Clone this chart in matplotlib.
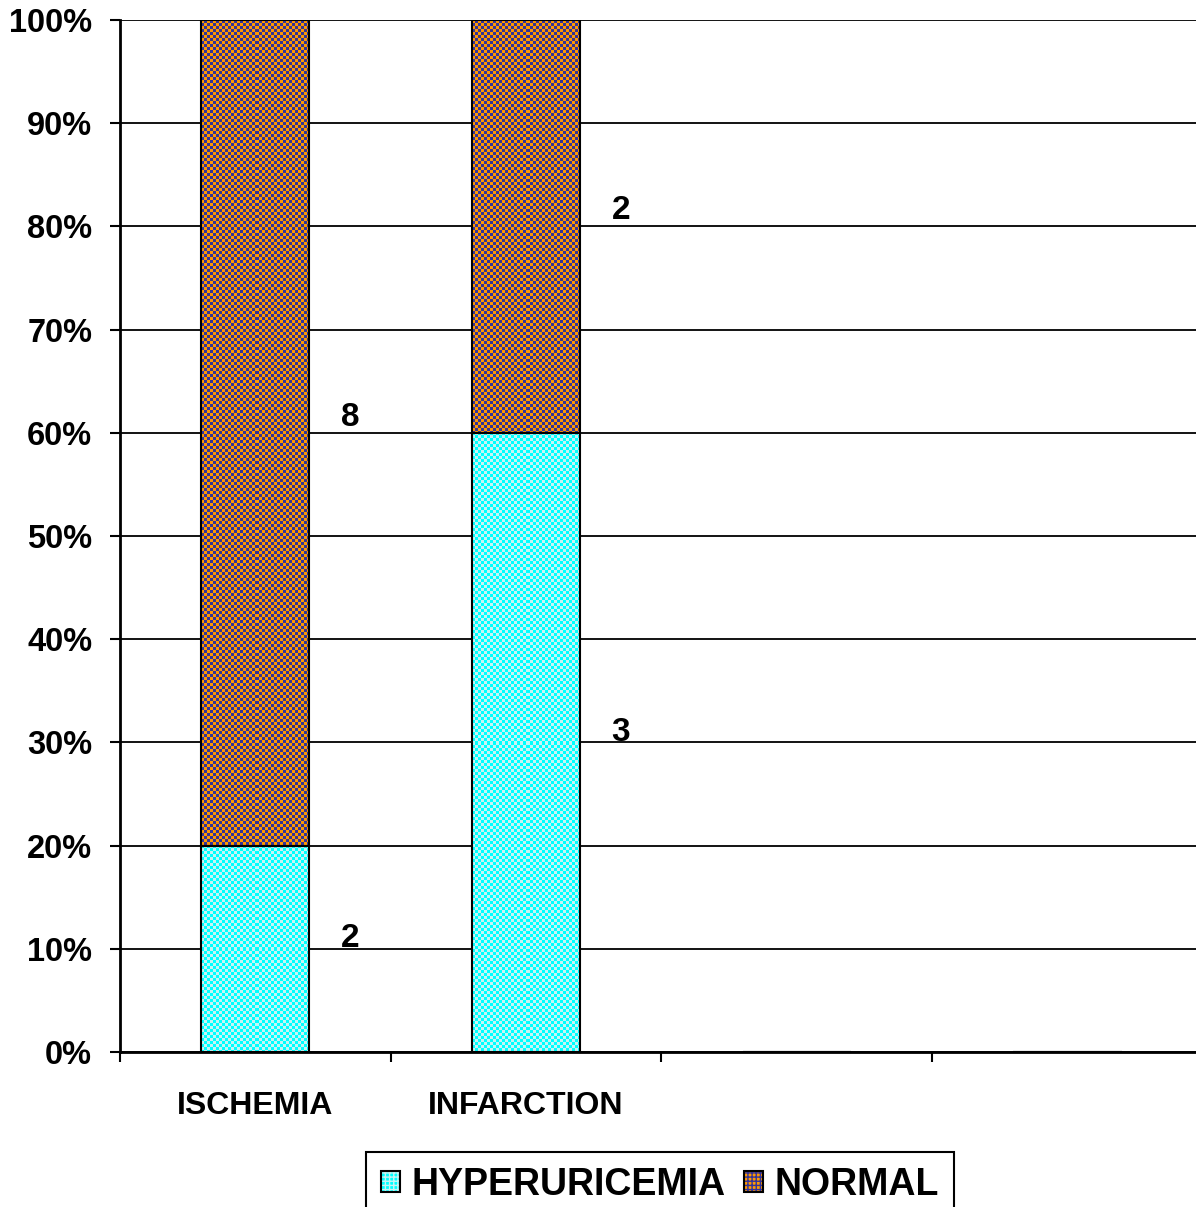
import numpy as np
import matplotlib.pyplot as plt
from matplotlib.colors import to_rgb
from matplotlib.patches import Patch
from matplotlib.legend_handler import HandlerTuple

plt.rcParams['font.family'] = ['Liberation Sans', 'DejaVu Sans']
plt.rcParams['font.weight'] = 'bold'

# counts per group
groups = ['ISCHEMIA', 'INFARCTION', '', '']
hyper = [2, 3, 0, 0]
normal = [8, 2, 0, 0]
series = ['HYPERURICEMIA', 'NORMAL']

# two-colour checker fills
checks = {
    'HYPERURICEMIA': ('#00FFFF', '#C8F4F4'),
    'NORMAL': ('#FF9900', '#333399'),
}

tot = np.array(hyper) + np.array(normal)
tot_safe = np.where(tot == 0, 1, tot)
p_hyper = np.array(hyper) / tot_safe * 100
p_normal = np.array(normal) / tot_safe * 100

fig = plt.figure(figsize=(11.96, 12.07), dpi=100)
ax = fig.add_axes([120 / 1196, 1 - 1052 / 1207, 1076 / 1196, 1032 / 1207])
x = np.arange(len(groups))
ax.set_xlim(-0.5, 3.475)
ax.set_ylim(0, 100)

b1 = ax.bar(x, p_hyper, 0.4, color=checks['HYPERURICEMIA'][0], zorder=2)
b2 = ax.bar(x, p_normal, 0.4, bottom=p_hyper, color=checks['NORMAL'][0], zorder=2)


def checker(bars, c1, c2, cell=3):
    # pixel-sized image so the checks don't alias
    rgb1, rgb2 = np.array(to_rgb(c1)), np.array(to_rgb(c2))
    for p in bars:
        if p.get_height() <= 0:
            continue
        x0, y0 = p.get_x(), p.get_y()
        x1, y1 = x0 + p.get_width(), y0 + p.get_height()
        (px0, py0), (px1, py1) = ax.transData.transform([(x0, y0), (x1, y1)])
        nc = int(round(px1 - px0))
        nr = int(round(py1 - py0))
        r, c = np.indices((nr, nc))
        m = ((r // cell + c // cell) % 2)[..., None]
        img = np.where(m == 0, rgb1, rgb2)
        im = ax.imshow(img, extent=(x0, x1, y0, y1), aspect='auto',
                       interpolation='nearest', zorder=2.5)
        im.set_clip_path(p)


checker(b1, *checks['HYPERURICEMIA'])
checker(b2, *checks['NORMAL'])
ax.set_xlim(-0.5, 3.475)
ax.set_ylim(0, 100)

# outlines on top
ax.bar(x, p_hyper, 0.4, fill=False, edgecolor='black', linewidth=1.5, zorder=3)
ax.bar(x, p_normal, 0.4, bottom=p_hyper, fill=False, edgecolor='black',
       linewidth=1.5, zorder=3)

# count labels beside each segment
for i in range(len(groups)):
    if tot[i] == 0:
        continue
    ax.text(x[i] + 0.35, p_hyper[i] / 2 + 1, str(hyper[i]), fontsize=24,
            fontweight='bold', ha='center', va='center')
    ax.text(x[i] + 0.35, p_hyper[i] + p_normal[i] / 2 + 1.5, str(normal[i]),
            fontsize=24, fontweight='bold', ha='center', va='center')

ax.set_yticks(np.arange(0, 101, 10))
ax.set_yticklabels([f'{v}%' for v in range(0, 101, 10)])
ax.yaxis.grid(True, color='black', linewidth=1.3, zorder=0)
ax.set_axisbelow(True)
ax.tick_params(axis='y', length=7, width=1.5, pad=13, labelsize=23.5)

ax.set_xticks([-0.5, 0.5, 1.5, 2.5])
ax.set_xticklabels([])
ax.set_xticks(x, minor=True)
ax.set_xticklabels(groups, minor=True)
ax.tick_params(axis='x', which='major', length=7, width=1.5)
ax.tick_params(axis='x', which='minor', length=0, pad=28, labelsize=23)

for s in ['top', 'right']:
    ax.spines[s].set_visible(False)
for s in ['left', 'bottom']:
    ax.spines[s].set_linewidth(2)

handles = []
for name in series:
    c1, c2 = checks[name]
    handles.append((Patch(facecolor=c1, edgecolor=c2, hatch='++++', linewidth=0),
                    Patch(fill=False, edgecolor='black', linewidth=1.5)))
leg = fig.legend(handles, series, loc='upper center',
                 bbox_to_anchor=(660 / 1196, 1 - 1152 / 1207), ncol=2,
                 handler_map={tuple: HandlerTuple(ndivide=1, pad=0)},
                 prop={'size': 27, 'weight': 'bold'}, fancybox=False,
                 edgecolor='black', framealpha=1, handlelength=0.5,
                 handleheight=0.5, handletextpad=0.3, columnspacing=0.5,
                 borderpad=0.4, borderaxespad=0)
leg.get_frame().set_linewidth(1.5)

fig.savefig('out.png', dpi=100)
